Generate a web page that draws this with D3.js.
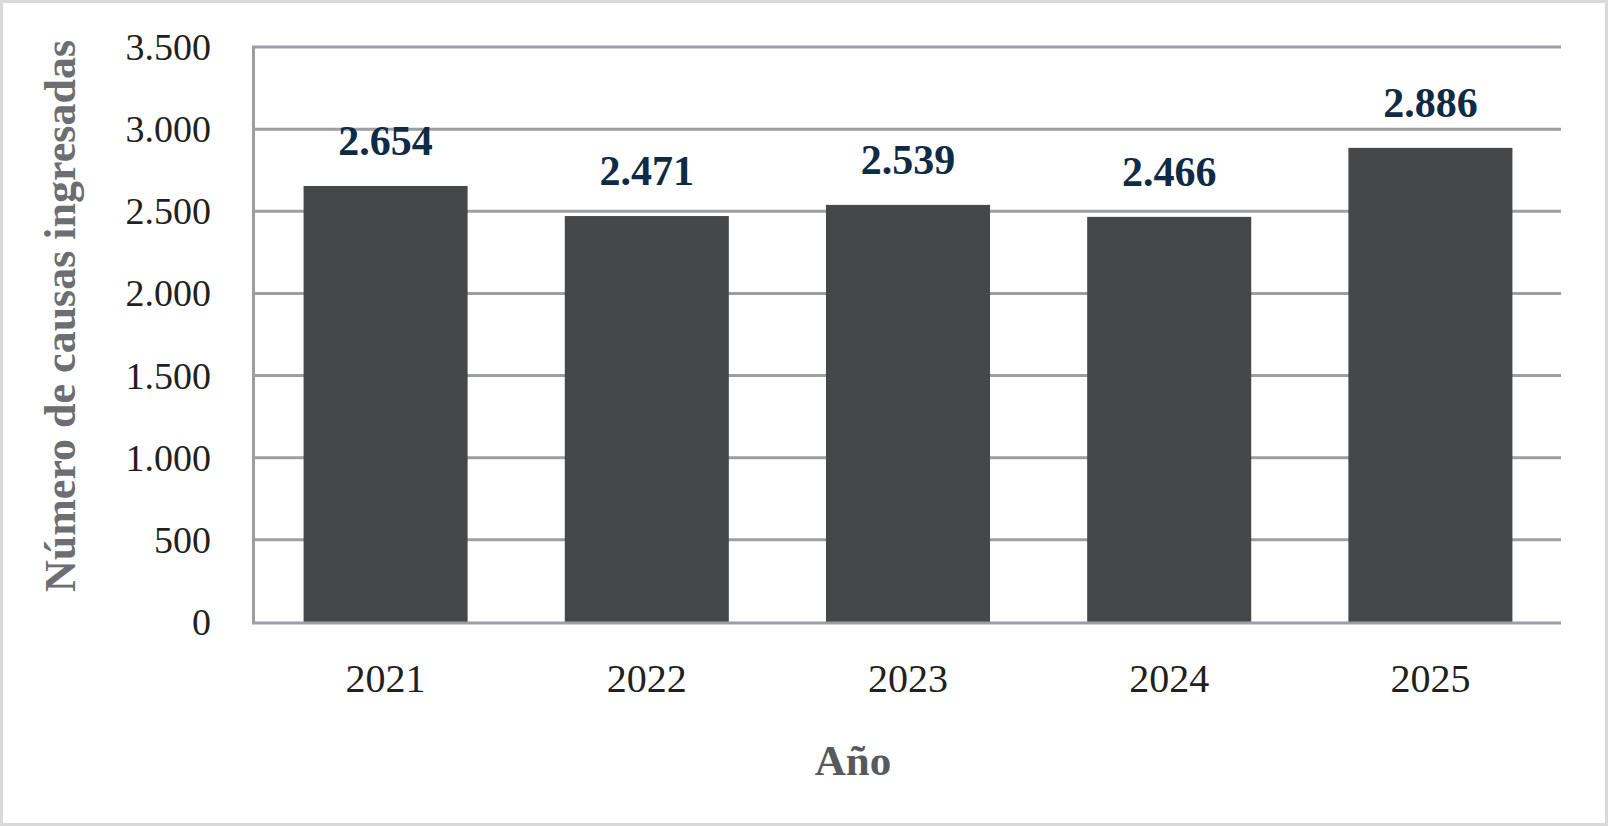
<!DOCTYPE html>
<html>
<head>
<meta charset="utf-8">
<script src="https://d3js.org/d3.v7.min.js"></script>
<style>
body { margin: 0; background: #fff; }
text { font-family: "Liberation Serif", "Times New Roman", serif; }
</style>
</head>
<body>
<div id="canvas"></div>
<script>
// ----------------------------------------------------------
// DATA -----------------------------------------------------
// ----------------------------------------------------------

var years = ["2021", "2022", "2023", "2024", "2025"];

var causas = [2654, 2471, 2539, 2466, 2886];

var y_ticks = [0, 500, 1000, 1500, 2000, 2500, 3000, 3500];

var y_title = "Número de causas ingresadas";
var x_title = "Año";


// ----------------------------------------------------------
// STRUCTURE ------------------------------------------------
// ----------------------------------------------------------

var width = 1608;
var height = 826;

// plot area
var plot_left = 255;
var plot_right = 1561;
var plot_top = 47;
var plot_bottom = 622;

var container = d3.select("#canvas").append("svg")
.attr("width", width)
.attr("height", height)
.style("display", "block");

// outer frame
container.append("rect")
.attr("x", 1.5)
.attr("y", 1.5)
.attr("width", width - 3)
.attr("height", height - 3)
.style("fill", "#fff")
.style("stroke", "#d9d9d9")
.style("stroke-width", 3);

var grid_group = container.append("g").attr("class", "grid_group");
var bar_group = container.append("g").attr("class", "bar_group");
var axis_group = container.append("g").attr("class", "axis_group");
var text_group = container.append("g").attr("class", "text_group");


// ----------------------------------------------------------
// SCALES ---------------------------------------------------
// ----------------------------------------------------------

var xScale = d3.scaleBand()
.domain(years)
.range([plot_left, plot_right])
.paddingInner(0.372)
.paddingOuter(0.186);

var yScale = d3.scaleLinear()
.domain([0, 3500])
.range([plot_bottom, plot_top]);


// ----------------------------------------------------------
// GRID + AXES ----------------------------------------------
// ----------------------------------------------------------

// horizontal gridlines
grid_group.selectAll(".grid_line")
.data(y_ticks.filter((d) => d > 0))
.enter()
.append("line")
.attr("class", "grid_line")
.attr("x1", plot_left)
.attr("x2", plot_right)
.attr("y1", (d) => yScale(d))
.attr("y2", (d) => yScale(d))
.style("stroke", "#9d9ea1")
.style("stroke-width", 3);

// y tick labels
axis_group.selectAll(".y_tick")
.data(y_ticks)
.enter()
.append("text")
.attr("class", "y_tick")
.attr("x", 211)
.attr("y", (d) => yScale(d) + 13)
.attr("text-anchor", "end")
.style("font-size", "38px")
.style("fill", "#231f20")
.text((d) => d3.format(",")(d).replace(/,/g, "."));

// x tick labels
axis_group.selectAll(".x_tick")
.data(years)
.enter()
.append("text")
.attr("class", "x_tick")
.attr("x", (d) => xScale(d) + xScale.bandwidth() / 2)
.attr("y", 692)
.attr("text-anchor", "middle")
.style("font-size", "40px")
.style("fill", "#231f20")
.text((d) => d);


// ----------------------------------------------------------
// BARS -----------------------------------------------------
// ----------------------------------------------------------

var bars = bar_group.selectAll(".bar")
.data(causas)
.enter()
.append("g")
.attr("class", "bar");

bars.append("rect")
.attr("x", (d, i) => xScale(years[i]))
.attr("y", (d) => yScale(d))
.attr("width", xScale.bandwidth())
.attr("height", (d) => plot_bottom - yScale(d))
.style("fill", "#454749");

// value labels
bars.append("text")
.attr("x", (d, i) => xScale(years[i]) + xScale.bandwidth() / 2)
.attr("y", (d) => yScale(d) - 31)
.attr("text-anchor", "middle")
.style("font-size", "42px")
.style("font-weight", "bold")
.style("fill", "#0f2a45")
.text((d) => d3.format(",")(d).replace(/,/g, "."));

// axis lines on top of bars
axis_group.append("line")
.attr("x1", plot_left - 1.5)
.attr("x2", plot_left - 1.5)
.attr("y1", plot_top - 1.5)
.attr("y2", plot_bottom + 1.5)
.style("stroke", "#9d9ea1")
.style("stroke-width", 3);

axis_group.append("line")
.attr("x1", plot_left - 3)
.attr("x2", plot_right)
.attr("y1", plot_bottom + 1)
.attr("y2", plot_bottom + 1)
.style("stroke", "#9d9ea1")
.style("stroke-width", 3);


// ----------------------------------------------------------
// TEXT -----------------------------------------------------
// ----------------------------------------------------------

text_group.append("text")
.attr("transform", "translate(75, 316) rotate(-90)")
.attr("text-anchor", "middle")
.style("font-size", "44px")
.style("font-weight", "bold")
.style("fill", "#6d6e71")
.text(y_title);

text_group.append("text")
.attr("x", 853)
.attr("y", 775)
.attr("text-anchor", "middle")
.style("font-size", "43px")
.style("font-weight", "bold")
.style("fill", "#58595b")
.text(x_title);
</script>
</body>
</html>
